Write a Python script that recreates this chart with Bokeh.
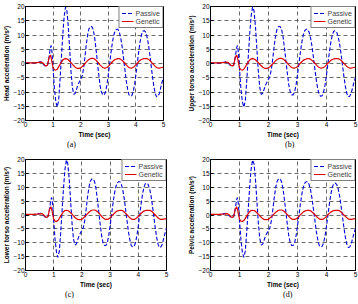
from bokeh.plotting import figure
from bokeh.layouts import column, row
from bokeh.models import FixedTicker, Legend, LegendItem, Div
from bokeh.embed import file_html
from bokeh.resources import INLINE

# ---- data ----
time_s = [0.0, 0.1, 0.2, 0.3, 0.4, 0.5, 0.55, 0.6, 0.65, 0.7, 0.75, 0.8, 0.85, 0.9, 0.93, 0.96,
          1.0, 1.05, 1.1, 1.15, 1.2, 1.25, 1.3, 1.35, 1.4, 1.45, 1.5, 1.55, 1.6, 1.65, 1.7, 1.75,
          1.8, 1.85, 1.9, 1.95, 2.0, 2.05, 2.1, 2.15, 2.2, 2.25, 2.3, 2.35, 2.4, 2.45, 2.5, 2.55,
          2.6, 2.65, 2.7, 2.75, 2.8, 2.85, 2.9, 2.95, 3.0, 3.05, 3.1, 3.15, 3.2, 3.25, 3.3, 3.35,
          3.4, 3.45, 3.5, 3.55, 3.6, 3.65, 3.7, 3.75, 3.8, 3.85, 3.9, 3.95, 4.0, 4.05, 4.1, 4.15,
          4.2, 4.25, 4.3, 4.35, 4.4, 4.45, 4.5, 4.55, 4.6, 4.65, 4.7, 4.75, 4.8, 4.85, 4.9, 4.95, 5.0]

passive = [0.2, 0.2, 0.2, 0.2, 0.3, 0.5, 0.6, 0.3, -0.3, -0.8, -1.0, -0.5, 2.0, 5.5, 6.3, 4.0,
           -2.0, -9.0, -13.5, -15.3, -13.0, -6.0, 2.0, 10.0, 16.5, 19.8, 18.5, 13.0, 5.0, -3.0, -8.5, -10.8,
           -10.5, -9.0, -7.5, -6.5, -5.5, -4.5, -2.0, 2.0, 6.5, 10.0, 12.2, 13.0, 13.0, 12.0, 9.5, 5.5,
           1.0, -3.5, -7.5, -10.0, -11.0, -11.0, -10.0, -7.5, -4.0, 0.0, 4.0, 7.5, 10.0, 11.5, 12.0, 12.0,
           11.0, 9.0, 6.0, 2.0, -2.0, -6.0, -9.0, -11.0, -11.5, -11.3, -10.0, -7.5, -4.0, 0.0, 4.0, 7.5,
           10.0, 11.3, 11.5, 11.0, 9.5, 7.0, 3.5, -0.5, -4.5, -8.0, -10.5, -11.7, -11.5, -10.5, -8.5, -6.5, -4.8]

genetic = [0.2, 0.2, 0.2, 0.2, 0.3, 0.4, 0.5, 0.4, 0.0, -0.6, -0.9, -0.5, 2.0, 3.0, 2.0, 0.5,
           -1.5, -2.2, -2.3, -2.0, -1.2, -0.3, 0.5, 1.2, 1.6, 1.7, 1.6, 1.3, 0.8, 0.3, -0.3, -0.8,
           -1.3, -1.6, -1.7, -1.7, -1.5, -1.1, -0.6, -0.1, 0.5, 1.0, 1.4, 1.7, 1.8, 1.8, 1.6, 1.2,
           0.7, 0.1, -0.5, -1.0, -1.4, -1.6, -1.6, -1.4, -1.0, -0.5, 0.1, 0.6, 1.1, 1.4, 1.6, 1.7,
           1.7, 1.5, 1.1, 0.6, 0.1, -0.5, -1.0, -1.4, -1.6, -1.6, -1.4, -1.0, -0.5, 0.1, 0.6, 1.1,
           1.4, 1.6, 1.7, 1.7, 1.7, 1.5, 1.1, 0.6, 0.0, -0.5, -1.0, -1.4, -1.6, -1.6, -1.5, -1.4, -1.3]

y_labels = ["Head acceleration (m/s²)", "Upper torso acceleration (m/s²)",
            "Lower torso acceleration (m/s²)", "Pelvic acceleration (m/s²)"]
captions = ["(a)", "(b)", "(c)", "(d)"]
x_ticks = [0, 1, 2, 3, 4, 5]
y_ticks = [-20, -15, -10, -5, 0, 5, 10, 15, 20]

FONT = "Liberation Sans"

# geometry per panel: (width, height, left, right, top, bottom)
geo = [
    (178, 140, 21, 15, 6, 17),
    (180, 140, 32, 3, 5, 18),
    (178, 138, 21, 12, 7, 16),
    (180, 138, 32, 3, 7, 16),
]
# caption boxes: (width, height, text left)
cap_geo = [
    (178, 12, 67),
    (180, 12, 107),
    (178, 14, 65),
    (180, 14, 105),
]


def make_panel(i):
    w, h, l, r, t, b = geo[i]
    p = figure(width=w, height=h, x_range=(0, 5), y_range=(-20, 20),
               output_backend="svg", toolbar_location=None,
               min_border_left=l, min_border_right=r, min_border_top=t, min_border_bottom=b)
    p.background_fill_color = "white"
    p.border_fill_color = "white"
    p.outline_line_color = "black"
    p.outline_line_width = 1

    for ax in (p.xaxis[0], p.yaxis[0]):
        ax.major_tick_in = 3
        ax.major_tick_out = 0
        ax.minor_tick_in = 0
        ax.minor_tick_out = 0
        ax.axis_line_color = "black"
        ax.major_label_text_font = FONT
        ax.major_label_text_font_size = "6.5px"
        ax.major_label_text_color = "black"
        ax.major_label_text_line_height = 1.0
        ax.axis_label_text_font = FONT
        ax.axis_label_text_font_size = "6.5px"
        ax.axis_label_text_font_style = "bold"
        ax.axis_label_text_color = "black"
        ax.axis_label_text_line_height = 1.0
        ax.major_label_standoff = 1
        ax.axis_label_standoff = 1
    p.yaxis.major_label_standoff = 1
    p.yaxis.axis_label_standoff = 0
    p.xaxis.ticker = FixedTicker(ticks=x_ticks)
    p.yaxis.ticker = FixedTicker(ticks=y_ticks)
    p.xaxis.axis_label = "Time (sec)"
    p.yaxis.axis_label = y_labels[i]

    for g in (p.xgrid[0], p.ygrid[0]):
        g.grid_line_color = "#444444"
        g.grid_line_dash = "4 3"
        g.grid_line_width = 0.8
    p.xgrid.ticker = FixedTicker(ticks=x_ticks)
    p.ygrid.ticker = FixedTicker(ticks=y_ticks)

    r1 = p.line(time_s, passive, line_color="#0000dd", line_width=1.1, line_dash="4 2")
    r2 = p.line(time_s, genetic, line_color="#dd0000", line_width=1.2)

    leg = Legend(items=[LegendItem(label="Passive", renderers=[r1]),
                        LegendItem(label="Genetic", renderers=[r2])],
                 location="top_right")
    leg.margin = 0
    leg.padding = 2
    leg.spacing = 0
    leg.label_text_font = FONT
    leg.label_text_font_size = "7px"
    leg.label_height = 8
    leg.glyph_height = 8
    leg.glyph_width = 12
    leg.label_standoff = 2
    leg.border_line_color = "black"
    leg.border_line_width = 1
    leg.background_fill_alpha = 1
    p.add_layout(leg)
    return p


def make_caption(i):
    w, h, x = cap_geo[i]
    return Div(text=captions[i], width=w, height=h, margin=0,
               styles={"padding-left": "%dpx" % x, "font-family": "'Liberation Serif'",
                       "font-size": "8px", "line-height": "9px", "color": "black",
                       "box-sizing": "border-box", "overflow": "visible"})


panels = [make_panel(i) for i in range(4)]
caps = [make_caption(i) for i in range(4)]
layout = column(row(panels[0], panels[1]), row(caps[0], caps[1]),
                row(panels[2], panels[3]), row(caps[2], caps[3]))

open("out.html", "w").write(file_html(layout, INLINE))
